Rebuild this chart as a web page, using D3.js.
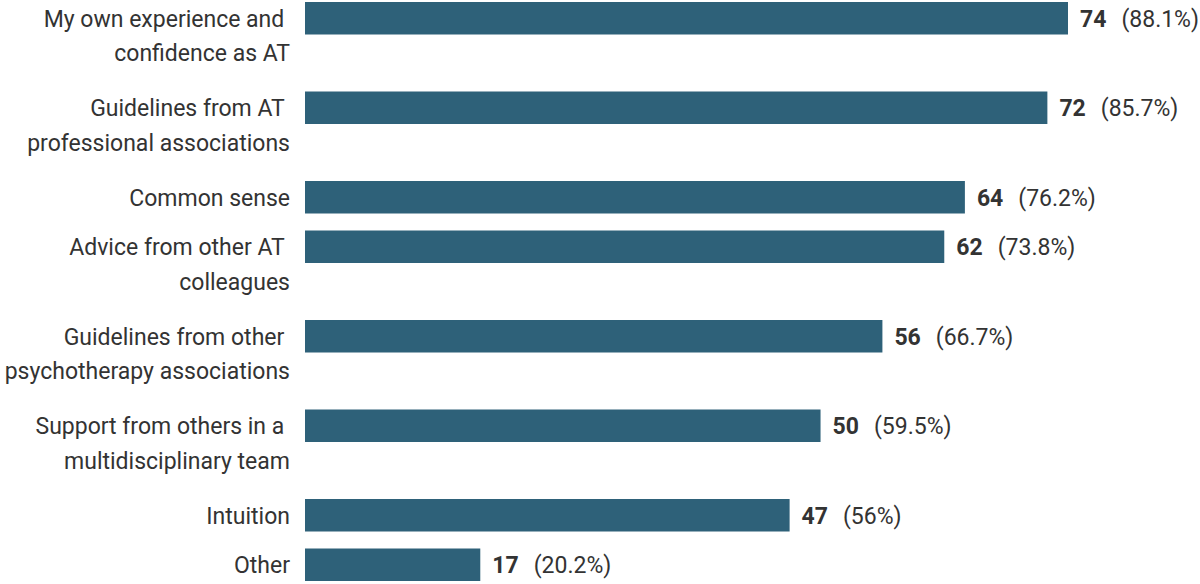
<!DOCTYPE html>
<html>
<head>
<meta charset="utf-8">
<script src="https://cdn.jsdelivr.net/npm/d3@7"></script>
<style>
  html, body { margin: 0; padding: 0; background: #fff; }
  svg { display: block; font-family: Roboto, "Noto Sans", sans-serif; }
</style>
</head>
<body>
<div id="chart"></div>
<script>
// Data
const categories = [
  ["My own experience and ", "confidence as AT"],
  ["Guidelines from AT ", "professional associations"],
  ["Common sense"],
  ["Advice from other AT ", "colleagues"],
  ["Guidelines from other ", "psychotherapy associations"],
  ["Support from others in a ", "multidisciplinary team"],
  ["Intuition"],
  ["Other"]
];
const counts = [74, 72, 64, 62, 56, 50, 47, 17];
const percents = ["88.1%", "85.7%", "76.2%", "73.8%", "66.7%", "59.5%", "56%", "20.2%"];

const width = 1200;
const height = 584;
const barColor = "#2e6179";
const textColor = "#333";

const barLeft = 305;
const barH = 32.5;
const lineGap = 34.5;

// rows with two-line labels take more room than single-line ones
const rowH = lines => lines === 1 ? 49.5 : 89.5;
const ids = categories.map((c, i) => i);
const tops = [0, ...d3.cumsum(categories, c => rowH(c.length))].slice(0, categories.length);

const x = d3.scaleLinear().domain([0, 74]).range([barLeft, 1068]);
const y = d3.scaleOrdinal().domain(ids).range(tops.map(t => t + 2));

const svg = d3.select("#chart").append("svg")
  .attr("width", width)
  .attr("height", height);

const row = svg.append("g")
  .selectAll("g")
  .data(ids)
  .enter().append("g");

// Bars
row.append("rect")
  .attr("x", x(0))
  .attr("y", i => y(i))
  .attr("width", i => x(counts[i]) - x(0))
  .attr("height", barH)
  .attr("fill", barColor);

// Category labels (right aligned, first line centred on the bar)
row.append("text")
  .attr("text-anchor", "end")
  .attr("font-size", "23px")
  .attr("fill", textColor)
  .style("white-space", "pre")
  .selectAll("tspan")
  .data(i => categories[i].map((t, k) => ({ t, k, i })))
  .enter().append("tspan")
  .attr("x", 290)
  .attr("y", d => y(d.i) + barH / 2 + d.k * lineGap)
  .attr("dy", "0.36em")
  .text(d => d.t);

// Value labels: bold count + percentage
const val = row.append("text")
  .attr("x", i => x(counts[i]) + 12)
  .attr("y", i => y(i) + barH / 2)
  .attr("dy", "0.36em")
  .attr("font-size", "23px")
  .attr("fill", textColor);

val.append("tspan")
  .attr("font-weight", "bold")
  .text(i => counts[i]);

val.append("tspan")
  .attr("dx", 15)
  .text(i => `(${percents[i]})`);
</script>
</body>
</html>
